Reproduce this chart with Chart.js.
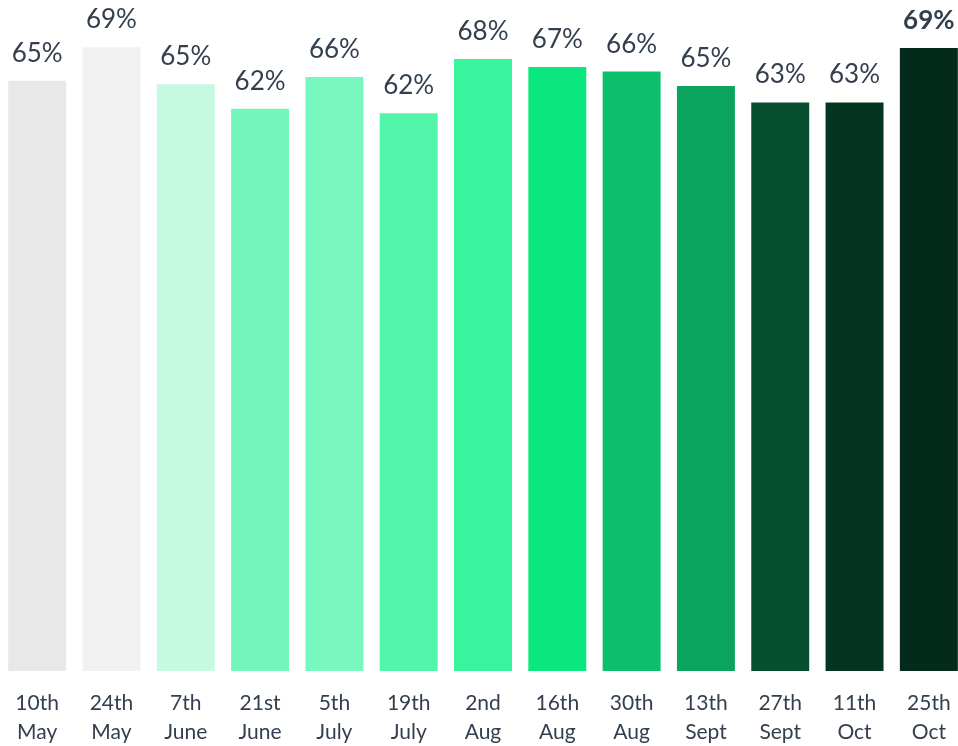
<!DOCTYPE html>
<html>
<head>
<meta charset="utf-8">
<script src="https://cdn.jsdelivr.net/npm/chart.js@4/dist/chart.umd.min.js"></script>
<style>
  html, body { margin: 0; padding: 0; background: #ffffff; overflow: hidden; }
  #wrap { width: 958px; height: 746px; overflow: hidden; }
</style>
</head>
<body>
<div id="wrap"><canvas id="c" width="966" height="746"></canvas></div>
<script>
const categories = [
  ['10th', 'May'], ['24th', 'May'], ['7th', 'June'], ['21st', 'June'],
  ['5th', 'July'], ['19th', 'July'], ['2nd', 'Aug'], ['16th', 'Aug'],
  ['30th', 'Aug'], ['13th', 'Sept'], ['27th', 'Sept'], ['11th', 'Oct'], ['25th', 'Oct']
];
const values = [65.2, 68.9, 64.8, 62.1, 65.6, 61.6, 67.6, 66.7, 66.2, 64.6, 62.8, 62.8, 68.8];
const barColors = [
  '#E8E8E8', '#F1F1F1', '#C6F9E2', '#74F6BA', '#78F8BF', '#52F5A9', '#39F49C',
  '#0CE67F', '#0CBF6A', '#0BA45C', '#064E2F', '#043520', '#032A1A'
];
const boldIndex = [12];

const textColor = '#333F4E';

const valueLabels = {
  id: 'valueLabels',
  afterDatasetsDraw(chart) {
    const ctx = chart.ctx;
    const meta = chart.getDatasetMeta(0);
    ctx.save();
    ctx.fillStyle = textColor;
    ctx.textAlign = 'center';
    ctx.textBaseline = 'alphabetic';
    meta.data.forEach((bar, i) => {
      const bold = boldIndex.includes(i);
      ctx.font = (bold ? 'bold ' : '') + '26px Lato';
      ctx.fillText(Math.round(values[i]) + '%', bar.x, bar.y - 19);
    });
    ctx.restore();
  }
};

new Chart(document.getElementById('c'), {
  type: 'bar',
  data: {
    labels: categories,
    datasets: [{
      data: values,
      backgroundColor: barColors,
      borderWidth: 0,
      barPercentage: 0.78,
      categoryPercentage: 1
    }]
  },
  options: {
    responsive: false,
    animation: false,
    devicePixelRatio: 1,
    layout: { padding: { top: 1, left: 0, right: 0, bottom: 0 } },
    plugins: { legend: { display: false }, tooltip: { enabled: false } },
    scales: {
      x: {
        grid: { display: false },
        border: { display: false },
        ticks: {
          color: textColor,
          font: { family: 'Lato', size: 21, lineHeight: 1.38 },
          padding: 10,
          maxRotation: 0,
          autoSkip: false
        },
        afterFit(scale) {
          scale.height = 75;
          scale.paddingLeft = 0;
          scale.paddingRight = 0;
        }
      },
      y: {
        display: false,
        min: 0,
        max: 74
      }
    }
  },
  plugins: [valueLabels]
});
</script>
</body>
</html>
